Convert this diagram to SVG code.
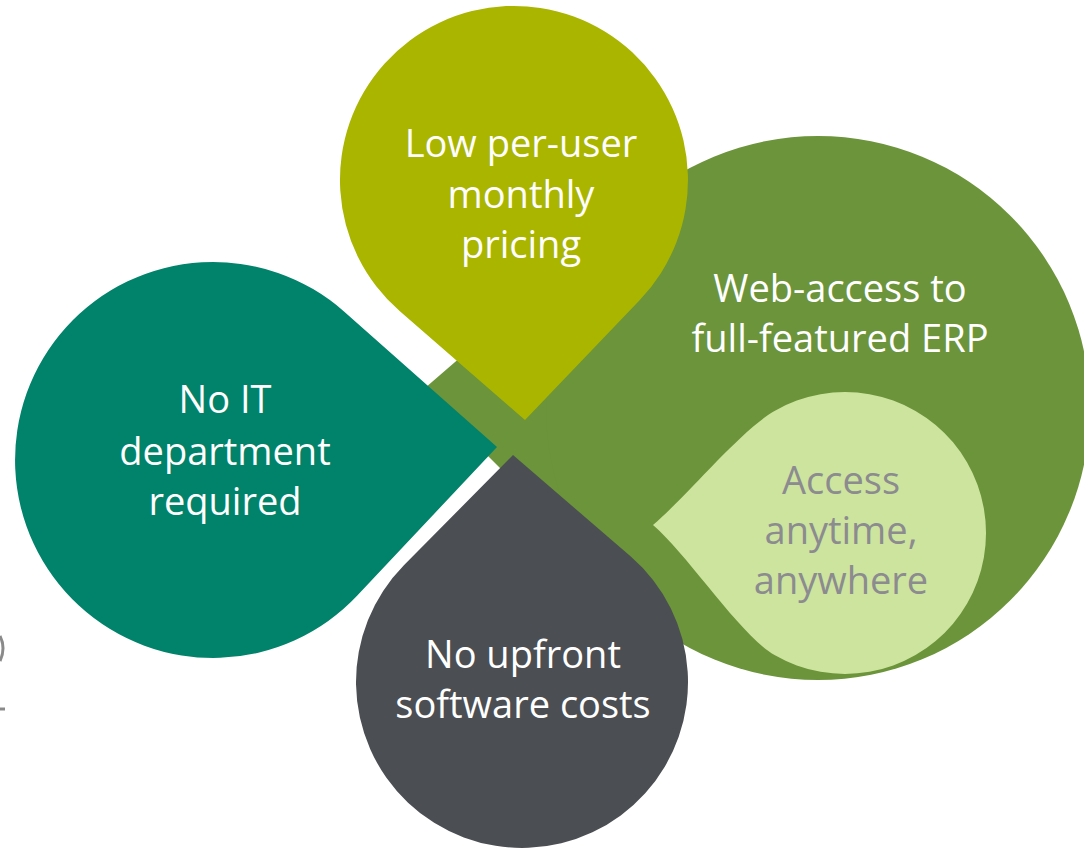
<svg xmlns="http://www.w3.org/2000/svg" width="1084" height="849" viewBox="0 0 1084 849">
  <style>
    .lbl { font-family: "Open Sans", "Noto Sans", sans-serif; font-size: 38px; text-anchor: middle; fill: #ffffff; }
    .lbl-dark { fill: #8b8b90; }
  </style>
  <rect x="0" y="0" width="1084" height="849" fill="#ffffff"/>
  <g id="fragments" fill="none" stroke="#8a8a8a" stroke-width="3">
    <path d="M0,636 Q6,648 0,661"/>
    <path d="M0,709 L5,709"/>
  </g>
  <g id="connectors"></g>
  <g id="node-web-access">
    <path d="M462,356 L425,388 L470,440 L485,453 L502,470 L590,540 L700,400 L640,320 L540,330 Z" fill="#6b943b"/>
    <circle cx="818" cy="408" r="272" fill="#6b943b"/>
    <text class="lbl" x="840" y="302">Web-access to</text>
    <text class="lbl" x="840" y="352">full-featured ERP</text>
  </g>
  <g id="node-access-anytime">
    <path d="M653,525 C688,495 740,431 774.5,410.9 A141,141 0 1 1 774.5,655.1 C740,635 688,555 653,525 Z" fill="#cde49e"/>
    <text class="lbl lbl-dark" x="841" y="494">Access</text>
    <text class="lbl lbl-dark" x="841" y="544">anytime,</text>
    <text class="lbl lbl-dark" x="841" y="594">anywhere</text>
  </g>
  <g id="node-no-it">
    <path d="M497,447 L344.3,311.7 A198,198 0 1 0 357.3,595.6 Z" fill="#00836a"/>
    <text class="lbl" x="225" y="413">No IT</text>
    <text class="lbl" x="225" y="465">department</text>
    <text class="lbl" x="225" y="515">required</text>
  </g>
  <g id="node-pricing">
    <path d="M525,420 L399.9,311.3 A174,174 0 1 1 639.6,300.3 Z" fill="#aab500"/>
    <text class="lbl" x="521" y="157">Low per-user</text>
    <text class="lbl" x="521" y="208">monthly</text>
    <text class="lbl" x="521" y="258">pricing</text>
  </g>
  <g id="node-no-upfront">
    <path d="M513,455 L630.5,556.3 A166,166 0 1 1 403.9,565.3 Z" fill="#4b4e52"/>
    <text class="lbl" x="523" y="668">No upfront</text>
    <text class="lbl" x="523" y="718">software costs</text>
  </g>
</svg>
